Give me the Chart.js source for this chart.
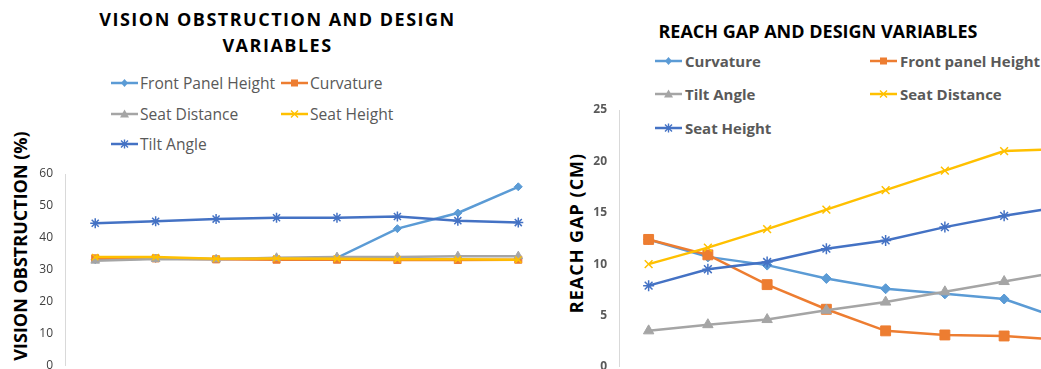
<!DOCTYPE html>
<html>
<head>
<meta charset="utf-8">
<script src="https://cdn.jsdelivr.net/npm/chart.js@4/dist/chart.umd.min.js"></script>
<style>
  html, body { margin: 0; padding: 0; background: #fff; }
  body { width: 1041px; height: 369px; overflow: hidden; position: relative; font-family: "Open Sans", sans-serif; }
  .box { position: absolute; top: 0; }
  .title { position: absolute; font-weight: bold; color: #000; text-align: center; white-space: nowrap; }
  .ytitle { position: absolute; font-weight: bold; color: #000; white-space: nowrap; transform: translate(-50%, -50%) rotate(-90deg); }
  .legend { position: absolute; display: grid; }
  .item { display: flex; align-items: center; white-space: nowrap; color: #595959; }
  .item svg { flex: none; }
</style>
</head>
<body>

<div class="title" style="left:0; width:555px; top:6px; font-size:18px; letter-spacing:1.5px; line-height:26px;">VISION OBSTRUCTION AND DESIGN<br>VARIABLES</div>
<div class="ytitle" style="left:20px; top:246px; font-size:18px;">VISION OBSTRUCTION (%)</div>
<div class="legend" id="leftLegend" style="left:111px; top:68px; grid-template-columns:170px 170px; grid-auto-rows:30.5px; font-size:15.6px;"></div>
<div class="box" style="left:0; width:555px; height:385px;"><canvas id="leftChart"></canvas></div>

<div class="title" style="left:560px; width:516px; top:18px; font-size:18px; line-height:26px;">REACH GAP AND DESIGN VARIABLES</div>
<div class="ytitle" style="left:576px; top:233px; font-size:18px; letter-spacing:1px;">REACH GAP (CM)</div>
<div class="legend" id="rightLegend" style="left:655px; top:44px; grid-template-columns:215px 215px; grid-auto-rows:33.5px; font-size:15px; font-weight:bold;"></div>
<div class="box" style="left:556px; width:545px; height:386px;"><canvas id="rightChart"></canvas></div>

<script>
// categories (x labels are cut off in the source picture)
const categories = ['1', '2', '3', '4', '5', '6', '7', '8'];

// left chart: vision obstruction (%)
const visionFrontPanel = [33.2, 33.6, 33.4, 33.5, 33.8, 42.9, 47.8, 56.0];
const visionCurvature = [33.6, 33.6, 33.3, 33.2, 33.2, 33.1, 33.1, 33.2];
const visionSeatDistance = [32.9, 33.4, 33.3, 33.8, 34.0, 34.0, 34.3, 34.3];
const visionSeatHeight = [34.0, 34.0, 33.5, 33.6, 33.5, 33.3, 33.3, 33.2];
const visionTiltAngle = [44.6, 45.2, 45.9, 46.3, 46.3, 46.7, 45.4, 44.8];
const visionTicks = [0, 10, 20, 30, 40, 50, 60];

// right chart: reach gap (cm)
const reachCurvature = [12.4, 10.7, 9.9, 8.6, 7.6, 7.1, 6.6, 4.6];
const reachFrontPanel = [12.4, 10.9, 8.0, 5.6, 3.5, 3.1, 3.0, 2.6];
const reachTiltAngle = [3.5, 4.1, 4.6, 5.5, 6.3, 7.3, 8.3, 9.3];
const reachSeatDistance = [10.0, 11.6, 13.4, 15.3, 17.2, 19.1, 21.0, 21.2];
const reachSeatHeight = [7.9, 9.5, 10.2, 11.5, 12.3, 13.6, 14.7, 15.6];
const reachTicks = [0, 5, 10, 15, 20, 25];

const LIGHT_BLUE = '#5B9BD5';
const ORANGE = '#ED7D31';
const GRAY = '#A5A5A5';
const YELLOW = '#FFC000';
const DARK_BLUE = '#4472C4';

// marker shape -> chart.js pointStyle
const styleMap = { diamond: 'rectRot', square: 'rect', triangle: 'triangle', x: 'crossRot', star: 'star' };

function series(label, data, color, marker, radius) {
    return { label: label, data: data, color: color, marker: marker, radius: radius };
}

const leftSeries = [
    series('Front Panel Height', visionFrontPanel, LIGHT_BLUE, 'diamond', 4),
    series('Curvature', visionCurvature, ORANGE, 'square', 5),
    series('Seat Distance', visionSeatDistance, GRAY, 'triangle', 5),
    series('Seat Height', visionSeatHeight, YELLOW, 'x', 4.5),
    series('Tilt Angle', visionTiltAngle, DARK_BLUE, 'star', 5)
];

const rightSeries = [
    series('Curvature', reachCurvature, LIGHT_BLUE, 'diamond', 5),
    series('Front panel Height', reachFrontPanel, ORANGE, 'square', 7),
    series('Tilt Angle', reachTiltAngle, GRAY, 'triangle', 6),
    series('Seat  Distance', reachSeatDistance, YELLOW, 'x', 5.5),
    series('Seat Height', reachSeatHeight, DARK_BLUE, 'star', 5.5)
];

// small svg of the line + marker for the html legend
function markerSvg(color, marker) {
    let m = '';
    if (marker === 'diamond') m = '<polygon points="13.5,2 17,6 13.5,10 10,6" fill="' + color + '"/>';
    if (marker === 'square') m = '<rect x="10" y="2.5" width="7" height="7" fill="' + color + '"/>';
    if (marker === 'triangle') m = '<polygon points="13.5,1.5 18,9.5 9,9.5" fill="' + color + '"/>';
    if (marker === 'x') m = '<path d="M10 2.5 L17 9.5 M17 2.5 L10 9.5" stroke="' + color + '" stroke-width="1.4"/>';
    if (marker === 'star') m = '<path d="M10 2.5 L17 9.5 M17 2.5 L10 9.5 M13.5 1.5 L13.5 10.5" stroke="' + color + '" stroke-width="1.4"/>';
    return '<svg width="27" height="12" viewBox="0 0 27 12">' +
        '<line x1="0" y1="6" x2="27" y2="6" stroke="' + color + '" stroke-width="2.5"/>' + m + '</svg>';
}

function buildLegend(id, list, gap) {
    const box = document.getElementById(id);
    list.forEach(function (s) {
        const div = document.createElement('div');
        div.className = 'item';
        div.innerHTML = markerSvg(s.color, s.marker) + '<span style="margin-left:' + gap + 'px">' + s.label + '</span>';
        box.appendChild(div);
    });
}

function createChart(canvasId, list, ticks, opts) {
    const n = list.length;
    const datasets = list.map(function (s, i) {
        return {
            label: s.label,
            data: s.data,
            borderColor: s.color,
            backgroundColor: s.color,
            borderWidth: 2.5,
            pointStyle: styleMap[s.marker],
            pointRadius: s.radius,
            pointBorderWidth: (s.marker === 'x' || s.marker === 'star') ? 1.5 : 1,
            pointBackgroundColor: s.color,
            pointBorderColor: s.color,
            tension: 0,
            order: n - i  // later series drawn on top, like the source
        };
    });

    return new Chart(document.getElementById(canvasId).getContext('2d'), {
        type: 'line',
        data: { labels: categories, datasets: datasets },
        options: {
            responsive: true,
            maintainAspectRatio: false,
            animation: false,
            layout: { padding: opts.padding },
            plugins: { legend: { display: false }, title: { display: false }, tooltip: { enabled: false } },
            scales: {
                x: { display: false, offset: true },
                y: {
                    min: ticks[0],
                    max: ticks[ticks.length - 1],
                    afterBuildTicks: function (scale) {
                        scale.ticks = ticks.map(function (v) { return { value: v }; });
                    },
                    afterFit: function (scale) { scale.width = opts.axisWidth; },
                    ticks: { color: opts.tickColor, font: opts.tickFont, padding: 12 },
                    grid: { drawOnChartArea: false, drawTicks: false },
                    border: { display: true, color: '#D9D9D9', width: 1 }
                }
            }
        }
    });
}

function init() {
    buildLegend('leftLegend', leftSeries, 2);
    buildLegend('rightLegend', rightSeries, 3);

    createChart('leftChart', leftSeries, visionTicks, {
        padding: { top: 174, bottom: 16, left: 0, right: 6 },
        axisWidth: 65,
        tickColor: '#404040',
        tickFont: { family: '"Open Sans", sans-serif', size: 12 }
    });

    createChart('rightChart', rightSeries, reachTicks, {
        padding: { top: 110, bottom: 15, left: 0, right: 8 },
        axisWidth: 63,
        tickColor: '#595959',
        tickFont: { family: '"Open Sans", sans-serif', size: 12, weight: 'bold' }
    });
}

init();
</script>
</body>
</html>
